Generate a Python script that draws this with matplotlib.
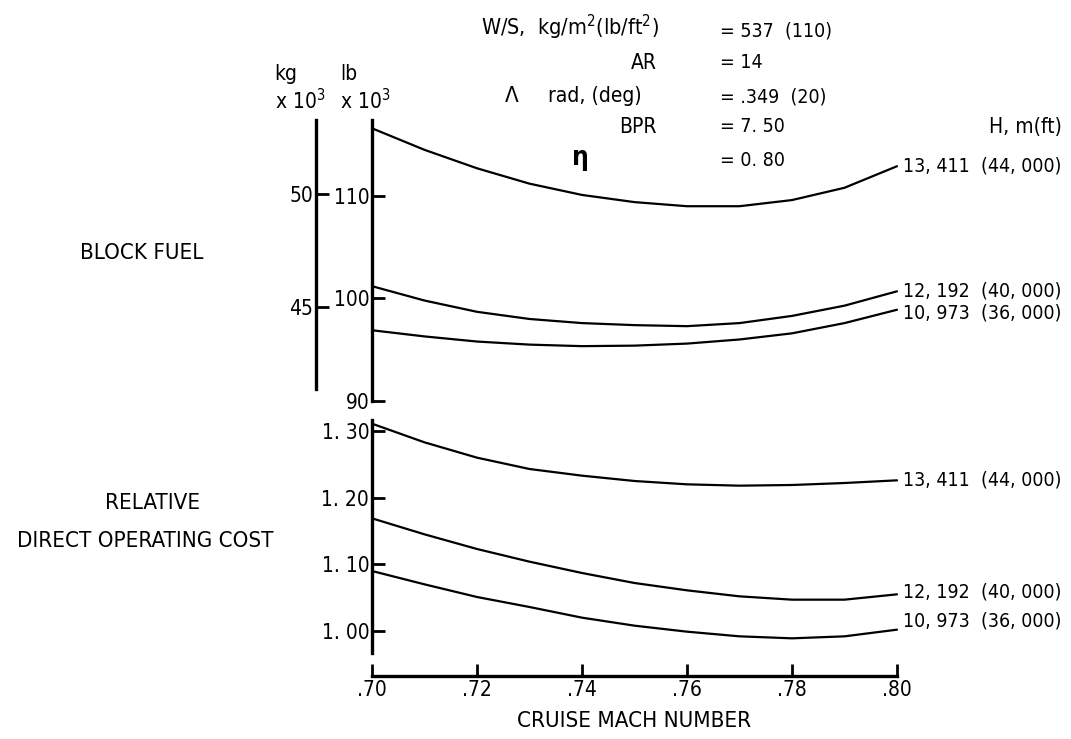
import matplotlib
matplotlib.use("Agg")
import matplotlib.pyplot as plt

plt.rcParams['font.family'] = ['DejaVu Sans']
plt.rcParams['font.stretch'] = 'condensed'
plt.rcParams['mathtext.fontset'] = 'dejavusans'

# ---- data ----
mach = [0.70, 0.71, 0.72, 0.73, 0.74, 0.75, 0.76, 0.77, 0.78, 0.79, 0.80]
fuel_44k = [116.6, 114.5, 112.7, 111.2, 110.1, 109.4, 109.0, 109.0, 109.6, 110.8, 112.9]
fuel_40k = [101.2, 99.8, 98.7, 98.0, 97.6, 97.4, 97.3, 97.6, 98.3, 99.3, 100.7]
fuel_36k = [96.9, 96.3, 95.8, 95.5, 95.35, 95.4, 95.6, 96.0, 96.6, 97.6, 98.9]
doc_44k = [1.311, 1.283, 1.260, 1.243, 1.233, 1.225, 1.220, 1.218, 1.219, 1.222, 1.226]
doc_40k = [1.169, 1.145, 1.123, 1.104, 1.087, 1.072, 1.061, 1.052, 1.047, 1.047, 1.055]
doc_36k = [1.090, 1.070, 1.051, 1.036, 1.020, 1.008, 0.999, 0.992, 0.989, 0.992, 1.002]
altitude_labels = ["13, 411  (44, 000)", "12, 192  (40, 000)", "10, 973  (36, 000)"]
x_ticks = [0.70, 0.72, 0.74, 0.76, 0.78, 0.80]
x_ticklabels = [".70", ".72", ".74", ".76", ".78", ".80"]
lb_ticks = [90, 100, 110]
kg_ticks = [45, 50]
doc_ticks = [1.00, 1.10, 1.20, 1.30]
doc_ticklabels = ["1. 00", "1. 10", "1. 20", "1. 30"]

W, H = 1071, 739
fig = plt.figure(figsize=(W / 100, H / 100), dpi=100)

def px_axes(x0, y0, x1, y1):
    return fig.add_axes([x0 / W, 1 - y1 / H, (x1 - x0) / W, (y1 - y0) / H])

FS = 14      # numbers
FT = 15      # tick labels
FL = 16      # capital labels
LW = 1.6

# ---- upper panel (block fuel) ----
ax1 = px_axes(372, 120, 897, 401)
ax1.set_xlim(0.70, 0.80)
ax1.set_ylim(90, 117.41)
ax1.patch.set_alpha(0)
for s in ['top', 'right', 'bottom']:
    ax1.spines[s].set_visible(False)
ax1.spines['left'].set_linewidth(2.4)
ax1.set_xticks([])
ax1.set_yticks(lb_ticks)
ax1.set_yticklabels([str(t) for t in lb_ticks], fontsize=FT)
ax1.tick_params(axis='y', direction='in', length=9, width=2, pad=2)
for yv in (fuel_44k, fuel_40k, fuel_36k):
    ax1.plot(mach, yv, color='black', lw=LW, clip_on=False, solid_capstyle='round')

kg_ax = ax1.secondary_yaxis(-0.107, functions=(lambda lb: lb * 0.45359, lambda kg: kg / 0.45359))
kg_ax.set_yticks(kg_ticks)
kg_ax.set_yticklabels([str(t) for t in kg_ticks], fontsize=FT)
kg_ax.tick_params(axis='y', direction='in', length=9, width=2, pad=2)
kg_ax.spines['left'].set_linewidth(2.4)
kg_ax.spines['left'].set_bounds(91.2 * 0.45359, 117.41 * 0.45359)

ends_up = [fuel_44k[-1], fuel_40k[-1], fuel_36k[-1]]
offs_up = [0, 0, -2]
for lab, ye, dy in zip(altitude_labels, ends_up, offs_up):
    ax1.annotate(lab, xy=(0.80, ye), xytext=(4, dy), textcoords='offset points',
                 fontsize=FS, va='center', ha='left', annotation_clip=False)

# ---- lower panel (DOC) ----
ax2 = px_axes(372, 420, 897, 676)
ax2.set_xlim(0.70, 0.80)
ax2.set_ylim(0.9325, 1.3165)
ax2.patch.set_alpha(0)
for s in ['top', 'right']:
    ax2.spines[s].set_visible(False)
ax2.spines['left'].set_linewidth(2.4)
ax2.spines['left'].set_bounds(0.967, 1.3165)
ax2.spines['bottom'].set_linewidth(2.4)
ax2.set_yticks(doc_ticks)
ax2.set_yticklabels(doc_ticklabels, fontsize=FT)
ax2.tick_params(axis='y', direction='in', length=9, width=2, pad=2)
ax2.set_xticks(x_ticks)
ax2.set_xticklabels(x_ticklabels, fontsize=FT)
ax2.tick_params(axis='x', direction='in', length=9, width=2, pad=3)
ax2.set_xlabel("CRUISE MACH NUMBER", fontsize=FL, labelpad=8)
for yv in (doc_44k, doc_40k, doc_36k):
    ax2.plot(mach, yv, color='black', lw=LW, clip_on=False, solid_capstyle='round')

ends_lo = [doc_44k[-1], doc_40k[-1], doc_36k[-1]]
offs_lo = [0, 2, 6]
for lab, ye, dy in zip(altitude_labels, ends_lo, offs_lo):
    ax2.annotate(lab, xy=(0.80, ye), xytext=(4, dy), textcoords='offset points',
                 fontsize=FS, va='center', ha='left', annotation_clip=False)

# ---- free texts (figure pixel coordinates) ----
def ftext(x, y, s, **kw):
    kw.setdefault('fontsize', FS)
    fig.text(x / W, 1 - y / H, s, **kw)

ftext(142, 253, "BLOCK FUEL", ha='center', va='center', fontsize=FL)
ftext(153, 503, "RELATIVE", ha='center', va='center', fontsize=FL)
ftext(145, 541, "DIRECT OPERATING COST", ha='center', va='center', fontsize=FL)

ftext(274, 74, "kg", ha='left', va='center', fontsize=15)
ftext(275, 101, "x 10$^3$", ha='left', va='center', fontsize=15)
ftext(340, 74, "lb", ha='left', va='center', fontsize=15)
ftext(340, 101, "x 10$^3$", ha='left', va='center', fontsize=15)

ftext(481, 27, "W/S,  kg/m$^2$(lb/ft$^2$)", ha='left', va='center', fontsize=15.5)
ftext(657, 63, "AR", ha='right', va='center', fontsize=15)
ftext(505, 96, "Λ", ha='left', va='center', fontsize=16)
ftext(548, 96, "rad, (deg)", ha='left', va='center', fontsize=15)
ftext(657, 127, "BPR", ha='right', va='center', fontsize=15)
ftext(580, 158, "η", ha='center', va='center', fontsize=19, fontweight='bold')

ftext(720, 31, "= 537  (110)", ha='left', va='center')
ftext(720, 63, "= 14", ha='left', va='center')
ftext(720, 97, "= .349  (20)", ha='left', va='center')
ftext(720, 127, "= 7. 50", ha='left', va='center')
ftext(720, 160, "= 0. 80", ha='left', va='center')
ftext(1062, 127, "H, m(ft)", ha='right', va='center', fontsize=15)

fig.savefig("out.png", dpi=100)
